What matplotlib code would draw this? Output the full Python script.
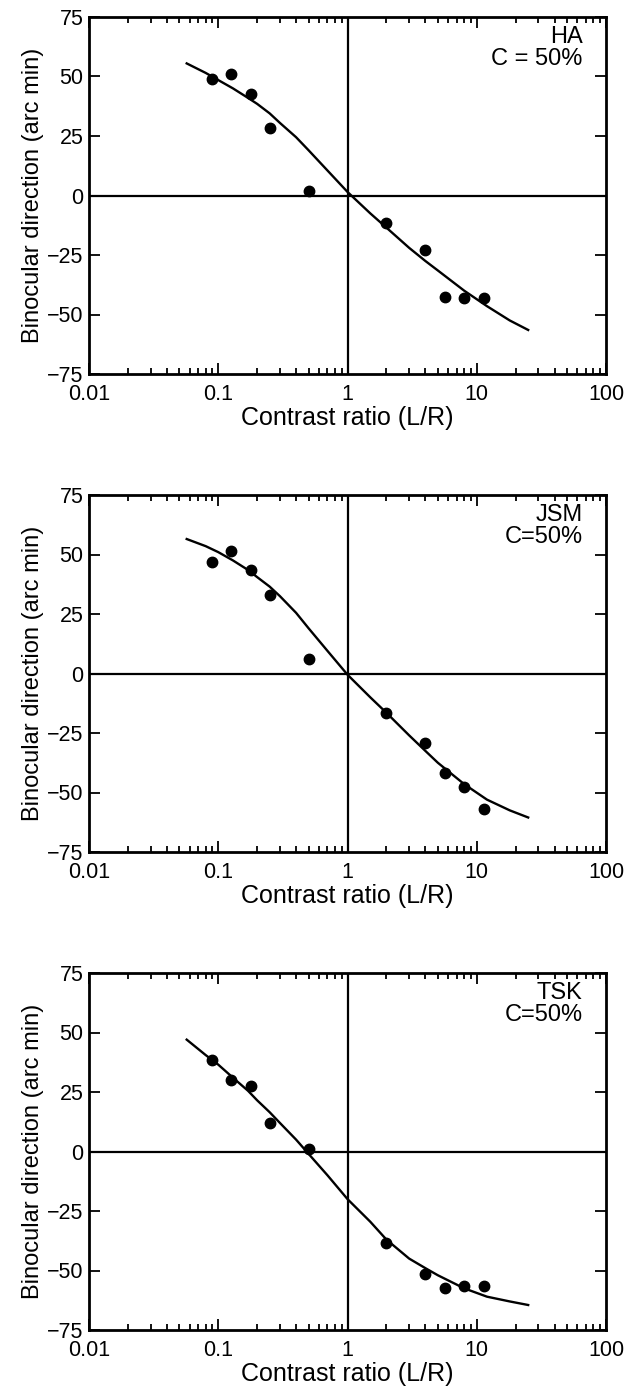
import matplotlib
matplotlib.use('Agg')
import matplotlib.pyplot as plt
from matplotlib.ticker import LogLocator, NullFormatter, FixedLocator

plt.rcParams['font.family'] = ['Liberation Sans', 'DejaVu Sans']

# contrast ratios (L/R), same for the three observers
ratio = [0.09, 0.125, 0.18, 0.25, 0.5, 2, 4, 5.7, 8, 11.4]

ha_dir = [49, 51, 42.5, 28.5, 2, -11.5, -23, -42.5, -43, -43]
jsm_dir = [47, 51.5, 43.5, 33, 6, -16.5, -29, -42, -47.5, -57]
tsk_dir = [38.5, 30, 27.5, 12, 1, -38.5, -51.5, -57.5, -56.5, -56.5]

# fitted curves
fit_x = [0.057, 0.08, 0.1, 0.13, 0.17, 0.2, 0.25, 0.3, 0.4, 0.5, 0.7, 1,
         1.5, 2, 3, 4, 5, 8, 12, 18, 25]
ha_fit = [55.5, 51.5, 48.5, 45, 41, 38.5, 34.5, 30.5, 24.5, 19, 10.5, 1.5,
          -7.5, -13.5, -22, -27.5, -31.5, -40, -46.5, -52.5, -56.5]
jsm_fit = [56.5, 53.5, 51, 47.5, 43.5, 40.5, 36.5, 32.5, 25.5, 19, 9.5, -0.5,
           -10, -16.5, -26, -32.5, -37.5, -46.5, -53, -57.5, -60.5]
tsk_fit = [47, 40.5, 36.5, 31, 25.5, 21.5, 16.5, 12, 5, -1, -10, -20,
           -29.5, -37, -45, -49, -52, -57.5, -61, -63, -64.5]

names = ['HA\nC = 50%', 'JSM\nC=50%', 'TSK\nC=50%']
yticks = [-75, -50, -25, 0, 25, 50, 75]
xticks = [0.01, 0.1, 1, 10, 100]
xticklabels = ['0.01', '0.1', '1', '10', '100']

fig = plt.figure(figsize=(6.28, 13.87), dpi=100)
W, H = 628.0, 1387.0
tops = [17, 495, 973]
panels = [(ha_dir, ha_fit), (jsm_dir, jsm_fit), (tsk_dir, tsk_fit)]

for i, (pts, fit) in enumerate(panels):
    top = tops[i]
    ax = fig.add_axes([89 / W, 1 - (top + 357) / H, 517 / W, 357 / H])
    ax.set_xscale('log')
    ax.set_xlim(0.01, 100)
    ax.set_ylim(-75, 75)
    ax.axhline(0, color='black', lw=1.6, zorder=1)
    ax.axvline(1, color='black', lw=1.6, zorder=1)
    ax.plot(fit_x, fit, color='black', lw=1.7, zorder=2)
    ax.plot(ratio, pts, 'o', color='black', ms=7.5, zorder=3)

    ax.xaxis.set_major_locator(FixedLocator(xticks))
    ax.set_xticklabels(xticklabels)
    ax.xaxis.set_minor_locator(LogLocator(base=10, subs=range(2, 10)))
    ax.xaxis.set_minor_formatter(NullFormatter())
    ax.set_yticks(yticks)
    ax.tick_params(which='both', direction='in', top=True, right=True,
                   width=1.3, labelsize=15.5, colors='black')
    ax.tick_params(which='major', length=8)
    ax.tick_params(axis='x', which='major', pad=7)
    ax.tick_params(axis='y', which='major', pad=4)
    ax.tick_params(which='minor', length=4)
    for sp in ax.spines.values():
        sp.set_linewidth(2)

    ax.set_xlabel('Contrast ratio (L/R)', fontsize=18, labelpad=1)
    ax.set_ylabel('Binocular direction (arc min)', fontsize=17, labelpad=2)
    ax.text(0.955, 0.975, names[i], transform=ax.transAxes, ha='right',
            va='top', fontsize=17, linespacing=1.0)

fig.savefig('out.png', dpi=100)
